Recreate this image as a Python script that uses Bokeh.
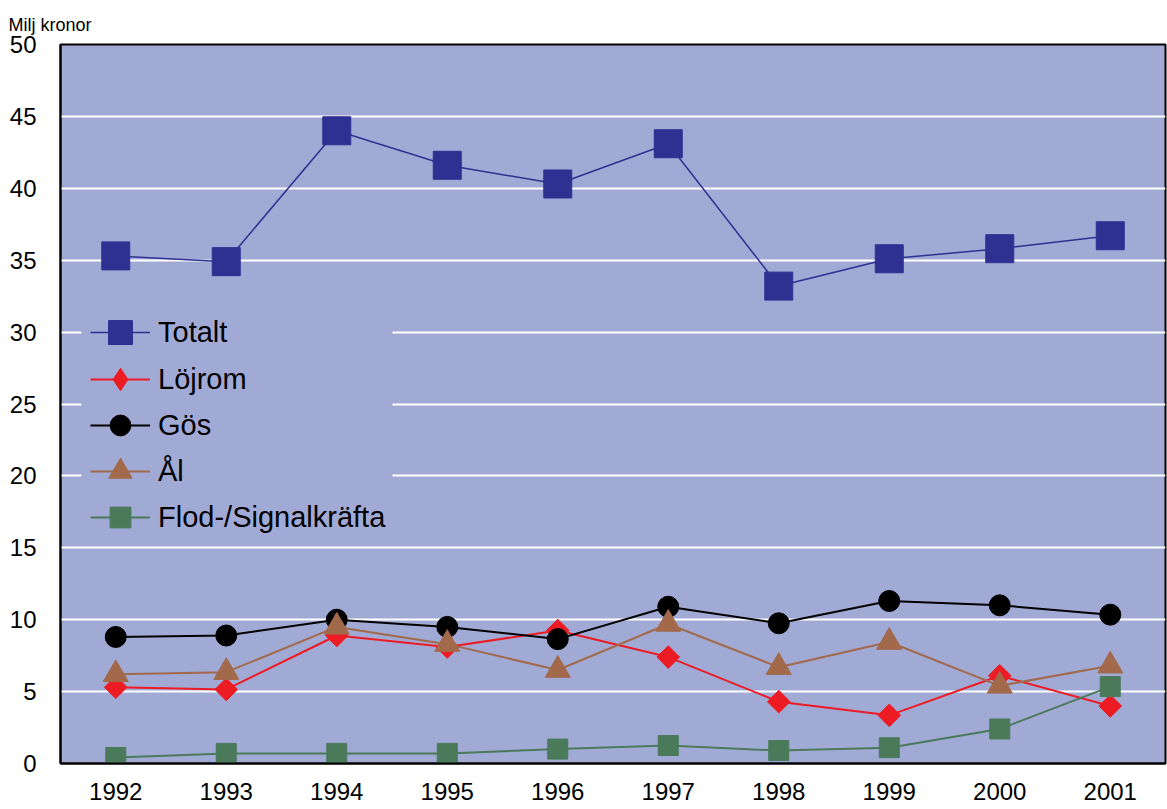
import math
from bokeh.plotting import figure
from bokeh.models import Range1d, FactorRange, Legend, LegendItem, BoxAnnotation, SingleIntervalTicker
from bokeh.embed import file_html
from bokeh.resources import INLINE

years = ["1992", "1993", "1994", "1995", "1996", "1997", "1998", "1999", "2000", "2001"]
totalt = [35.3, 34.9, 44.0, 41.6, 40.3, 43.1, 33.2, 35.1, 35.8, 36.7]
lojrom = [5.3, 5.15, 8.9, 8.1, 9.25, 7.4, 4.3, 3.35, 6.1, 4.0]
gos = [8.8, 8.9, 10.0, 9.5, 8.65, 10.9, 9.75, 11.3, 11.0, 10.35]
al = [6.2, 6.35, 9.5, 8.3, 6.5, 9.7, 6.7, 8.45, 5.4, 6.8]
flod = [0.42, 0.7, 0.7, 0.7, 1.0, 1.25, 0.9, 1.1, 2.4, 5.35]
y_label = "Milj kronor"

FONT = "Liberation Sans"
BG = "#A0AAD5"

p = figure(width=1167, height=809, x_range=FactorRange(*years, range_padding=0),
           y_range=Range1d(0, 50), output_backend="svg", toolbar_location=None,
           min_border_left=60, min_border_right=2, min_border_top=44, min_border_bottom=46)
p.background_fill_color = BG
p.border_fill_color = "white"
p.outline_line_color = "black"
p.outline_line_width = 2

p.title.text = y_label
p.title.align = "left"
p.title.offset = -52
p.title.standoff = 20
p.title.text_font = FONT
p.title.text_font_size = "18px"
p.title.text_font_style = "normal"
p.title.text_color = "black"

p.xgrid.grid_line_color = None
p.ygrid.grid_line_color = "white"
p.ygrid.grid_line_width = 2
p.yaxis.ticker = SingleIntervalTicker(interval=5)

for ax in (p.xaxis[0], p.yaxis[0]):
    ax.axis_line_color = "black"
    ax.axis_line_width = 2
    ax.major_tick_line_color = None
    ax.minor_tick_line_color = None
    ax.major_tick_out = 0
    ax.major_tick_in = 0
    ax.major_label_text_font = FONT
    ax.major_label_text_font_size = "24px"
    ax.major_label_text_color = "black"
p.xaxis.major_label_standoff = 19
p.yaxis.major_label_standoff = 20

# name, values, colour, chart marker, chart size, angle, line width, legend marker, legend glyph height
series = [
    ("Totalt", totalt, "#2E3192", "square", 28, 0, 1.5, "square", 64),
    ("Löjrom", lojrom, "#ED1C24", "square", 16, math.pi / 4, 2, "diamond", 56),
    ("Gös", gos, "black", "circle", 21, 0, 2, "circle", 52),
    ("Ål", al, "#A2694A", "triangle", 25, 0, 2, "triangle", 58),
    ("Flod-/Signalkräfta", flod, "#4A7A5A", "square", 20, 0, 2, "square", 52),
]

# background patch for the legend block (hides the grid lines behind it)
p.add_layout(BoxAnnotation(left=21, right=332, bottom=219, top=455,
                           left_units="screen", right_units="screen",
                           bottom_units="screen", top_units="screen",
                           fill_color=BG, fill_alpha=1, line_color=None, level="underlay"))

row_centres = [431, 384, 338, 292, 246]
for (name, vals, col, marker, size, ang, lw, lmarker, gh), yc in zip(series, row_centres):
    r1 = p.line(years, vals, line_color=col, line_width=lw)
    r2 = p.scatter(years, vals, marker=marker, size=size, angle=ang,
                   fill_color=col, line_color=col)
    legend_rs = [r1, r2]
    if lmarker != marker:
        r3 = p.scatter(years, vals, marker=lmarker, size=size, fill_color=col,
                       line_color=col, visible=False)
        legend_rs = [r1, r3]
    lg = Legend(items=[LegendItem(label=name, renderers=legend_rs)],
                location=(30, yc - gh / 2))
    lg.background_fill_alpha = 0
    lg.border_line_color = None
    lg.padding = 0
    lg.margin = 0
    lg.glyph_width = 60
    lg.glyph_height = gh
    lg.label_standoff = 8
    lg.label_text_font = FONT
    lg.label_text_font_size = "29px"
    lg.label_text_color = "black"
    lg.inactive_fill_alpha = 0
    p.add_layout(lg, "center")

open("out.html", "w").write(file_html(p, INLINE))
